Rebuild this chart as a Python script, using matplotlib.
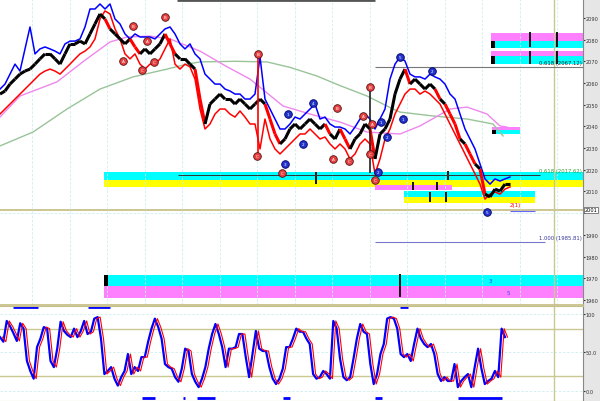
import numpy as np
import matplotlib.pyplot as plt
from matplotlib.collections import LineCollection
from matplotlib.patches import Rectangle

# Cours par barre
close = [2054.9, 2056.3, 2059.5, 2061.8, 2064.1, 2065.5, 2066.4, 2068.7, 2071.1, 2073.4,
         2073.4, 2071.1, 2068.7, 2073.4, 2078.0, 2078.0, 2079.3, 2078.0, 2082.6, 2087.2,
         2091.8, 2089.5, 2084.9, 2082.6, 2080.3, 2078.0, 2080.3, 2076.6, 2073.4, 2075.7,
         2073.4, 2075.7, 2078.0, 2082.6, 2078.0, 2073.4, 2071.1, 2071.1, 2068.7, 2066.4,
         2052.6, 2041.1, 2050.3, 2052.6, 2054.9, 2052.6, 2052.6, 2050.3, 2052.6, 2050.3,
         2048.0, 2050.3, 2052.6, 2050.3, 2043.4, 2036.5, 2031.9, 2034.2, 2038.8, 2041.1,
         2038.8, 2041.1, 2043.4, 2041.1, 2038.8, 2041.1, 2036.5, 2034.2, 2038.8, 2034.2,
         2029.6, 2034.2, 2036.5, 2041.1, 2038.8, 2025.0, 2036.5, 2038.8, 2043.4, 2054.9,
         2061.8, 2066.4, 2059.5, 2061.8, 2059.5, 2057.2, 2059.5, 2057.2, 2052.6, 2050.3,
         2045.7, 2041.1, 2034.2, 2031.9, 2027.3, 2022.7, 2020.4, 2008.8, 2007.5, 2011.1,
         2010.2, 2013.4, 2013.4]

upper = [2057.2, 2059.5, 2064.1, 2068.7, 2065.5, 2075.7, 2085.8, 2073.4, 2075.7, 2076.6,
         2075.7, 2074.7, 2073.4, 2078.0, 2079.3, 2079.3, 2080.3, 2085.8, 2094.1, 2094.1,
         2096.4, 2094.1, 2096.4, 2089.5, 2087.2, 2082.6, 2080.3, 2082.6, 2081.2, 2081.2,
         2081.2, 2080.3, 2082.6, 2084.9, 2085.8, 2082.6, 2078.0, 2075.7, 2078.0, 2073.4,
         2071.1, 2064.1, 2061.8, 2059.5, 2059.5, 2057.2, 2056.3, 2054.9, 2054.9, 2052.6,
         2052.6, 2054.9, 2072.0, 2052.6, 2048.0, 2043.4, 2038.8, 2038.8, 2041.1, 2044.3,
         2043.4, 2045.7, 2048.0, 2050.3, 2043.4, 2044.3, 2041.1, 2039.7, 2039.7, 2038.8,
         2036.5, 2039.7, 2043.4, 2045.7, 2043.4, 2038.8, 2043.4, 2048.0, 2061.8, 2068.7,
         2072.0, 2070.1, 2064.1, 2062.8, 2062.8, 2061.8, 2064.1, 2062.8, 2061.8, 2059.5,
         2054.9, 2052.6, 2045.7, 2038.8, 2034.2, 2029.6, 2022.7, 2015.8, 2013.4, 2015.8,
         2014.8, 2015.8, 2016.7]

lower = [2045.7, 2048.0, 2050.3, 2052.6, 2054.9, 2057.2, 2059.5, 2061.8, 2064.1, 2065.5,
         2066.4, 2065.5, 2064.1, 2066.4, 2068.7, 2071.1, 2073.4, 2074.7, 2076.6, 2080.3,
         2089.5, 2093.2, 2091.8, 2084.9, 2080.3, 2073.4, 2071.1, 2073.4, 2068.7, 2066.4,
         2068.7, 2068.7, 2071.1, 2075.7, 2080.3, 2068.7, 2066.4, 2068.7, 2067.4, 2061.8,
         2048.0, 2038.8, 2041.1, 2045.7, 2048.0, 2048.0, 2045.7, 2044.3, 2047.1, 2044.3,
         2041.1, 2041.1, 2029.6, 2043.4, 2034.2, 2029.6, 2027.3, 2029.6, 2031.9, 2034.2,
         2036.5, 2036.5, 2038.8, 2036.5, 2034.2, 2035.1, 2031.9, 2029.6, 2031.9, 2029.6,
         2025.0, 2027.3, 2031.9, 2034.2, 2031.9, 2018.1, 2025.0, 2034.2, 2038.8, 2045.7,
         2050.3, 2054.9, 2057.2, 2057.2, 2054.9, 2056.3, 2054.9, 2052.6, 2050.3, 2045.7,
         2041.1, 2036.5, 2031.9, 2027.3, 2022.7, 2018.1, 2013.4, 2006.5, 2008.8, 2009.8,
         2008.8, 2011.1, 2012.1]

ma_rose_x = [0, 4, 11.4, 17, 22, 25.4, 30, 34, 40, 45, 50, 56.6, 62, 68, 73.4, 80, 84, 90, 93.4, 97.4, 100, 101.4]
ma_rose_y = [2044.3, 2054.0, 2060.5, 2070.5, 2078.9, 2081.2, 2081.6, 2080.3, 2074.7, 2068.0, 2061.8, 2049.4,
             2045.7, 2042.0, 2037.4, 2036.5, 2040.2, 2048.0, 2048.9, 2045.7, 2040.2, 2039.7]

ma_vert_x = [0, 6.6, 13.4, 20, 26.6, 33.4, 37.4, 40, 47, 53.4, 58, 63.4, 68, 73.4, 78.6, 80, 86.6, 93.4, 98.6, 100.6]
ma_vert_y = [2031.0, 2037.4, 2048.0, 2057.2, 2062.8, 2066.4, 2068.7, 2069.7, 2070.0, 2069.7, 2067.2, 2063.2,
             2058.8, 2054.0, 2048.0, 2046.6, 2044.8, 2043.4, 2041.1, 2035.6]

# Stochastique (panneau du bas)
osc = [70, 64, 91, 84, 75, 65, 88, 81, 39, 26, 16, 57, 68, 83, 81, 39, 31, 55, 90, 78,
       73, 70, 81, 70, 78, 91, 74, 77, 94, 96, 68, 22, 26, 31, 16, 7, 18, 26, 48, 22,
       31, 26, 44, 44, 64, 81, 94, 83, 68, 35, 31, 29, 18, 12, 29, 55, 52, 22, 12, 5,
       16, 31, 55, 74, 87, 74, 57, 31, 55, 55, 57, 74, 74, 44, 18, 48, 78, 55, 52, 52,
       31, 16, 9, 16, 29, 57, 57, 68, 81,
       77, 77, 68, 61, 22, 16, 18, 26, 22, 16, 91, 81, 42, 18, 14, 18, 42, 68, 87, 77,
       74, 35, 9, 22, 48, 61, 94, 96, 94, 81, 48, 44, 48, 39, 61, 81, 68, 61, 57, 61,
       48, 22, 13, 18, 13, 13, 35, 5, 13, 18, 22, 5, 31, 55, 29, 9, 13, 16, 26, 18,
       81, 70]
bas_debut = [28.4, 36.6, 39.4, 56.6, 75.0, 91.6]
bas_fin = [31.0, 37.0, 43.0, 58.0, 76.4, 100.4]
haut_debut = [2.6, 17.6, 80.0]
haut_fin = [7.6, 22.0, 81.6]

# Zones de prix : (debut, fin, bas, haut, couleur)
zones = [
    (20.8, 116.6, 2015.3, 2018.9, '#00ffff'),
    (20.8, 116.6, 2012.1, 2015.3, '#ffff00'),
    (75.0, 90.4, 2010.7, 2013.0, '#ff80ff'),
    (80.8, 107.0, 2007.5, 2010.2, '#00ffff'),
    (80.8, 107.0, 2004.7, 2007.5, '#ffff00'),
    (98.2, 116.6, 2079.3, 2083.0, '#ff80ff'),
    (98.2, 116.6, 2076.1, 2079.3, '#00ffff'),
    (98.2, 116.6, 2072.4, 2074.7, '#ff80ff'),
    (98.2, 116.6, 2068.7, 2072.4, '#00ffff'),
    (98.4, 104.0, 2038.3, 2039.7, '#ff80ff'),
    (98.4, 104.0, 2036.5, 2038.3, '#00ffff'),
    (20.8, 116.6, 1966.4, 1971.5, '#00ffff'),
    (20.8, 116.6, 1960.9, 1966.4, '#ff80ff'),
]
ticks_x = [63.2, 82.6, 87.4, 89.6, 86.0, 89.2, 80.0, 106.0, 106.0, 111.4, 111.4]
ticks_lo = [2013.4, 2010.7, 2010.7, 2015.3, 2005.2, 2005.2, 1961.4, 2076.6, 2068.7, 2076.6, 2068.7]
ticks_hi = [2018.9, 2014.4, 2014.4, 2019.4, 2009.8, 2009.8, 1972.0, 2083.5, 2074.7, 2083.5, 2074.7]
blocs = [(98.2, 99.0, 2076.1, 2079.3), (98.2, 99.0, 2068.7, 2072.4), (98.4, 99.2, 2036.5, 2038.3),
         (20.8, 21.5, 1966.4, 1971.5)]

# Etiquettes de vagues
vag_x = [24.6, 26.6, 28.4, 29.4, 30.8, 33.0, 51.6, 51.4, 56.4, 66.6, 69.8, 67.4, 72.6, 74.0, 74.4, 74.0, 75.0,
         57.6, 62.6, 60.6, 76.2, 77.4, 80.0, 86.4, 80.6, 57.0, 75.6, 97.4]
vag_y = [2070.1, 2086.3, 2066.0, 2079.3, 2069.7, 2090.4, 2073.4, 2026.4, 2018.5, 2025.0, 2024.1, 2048.5,
         2044.8, 2058.1, 2041.1, 2027.3, 2015.3,
         2045.7, 2050.8, 2031.9, 2042.0, 2035.1, 2072.0, 2065.5, 2043.4, 2022.7, 2019.0, 2000.5]
vag_lab = ['A', 'B', 'C', 'A', 'C', 'B', 'B', 'C', 'C', 'A', 'C', 'B', 'A', 'B', 'A', 'C', 'C',
           '1', '4', '2', '1', '2', '5', '2', '1', '3', '2', '5']
vag_rouge = 17

# Graduations de droite
prix_ticks = [1960, 1970, 1980, 1990, 2010, 2020, 2030, 2040, 2050, 2060, 2070, 2080, 2090]

fig = plt.figure(figsize=(6, 4.02), dpi=100)
fig.patches.append(Rectangle((583 / 600, 0), 17 / 600, 1, transform=fig.transFigure,
                             color='#e6e6e6', zorder=-1))
ax = fig.add_axes([0, 96 / 402, 583 / 600, 306 / 402])
ax2 = fig.add_axes([0, 0, 583 / 600, 95 / 402])

x = np.arange(len(close))
c = np.array(close)

# --- panneau principal ---
for x0, x1, lo, hi, col in zones:
    ax.fill_between([x0, x1], lo, hi, color=col, lw=0, zorder=1)
ax.vlines(ticks_x, ticks_lo, ticks_hi, color='black', lw=1.3, zorder=2)
for x0, x1, lo, hi in blocs:
    ax.fill_between([x0, x1], lo, hi, color='black', lw=0, zorder=2)

ax.axhline(2001.5, color='#c8c08a', lw=1.3, zorder=1)
ax.hlines(2017.6, 35.6, 108, color='#333333', lw=0.7, zorder=2)
ax.hlines(2067.4, 75, 116.6, color='#777777', lw=0.8, zorder=2)
ax.hlines(1986.7, 75, 109, color='#7777cc', lw=0.8, zorder=2)
ax.hlines(2098.2, 35.4, 75, color='#555555', lw=2, zorder=2)

ax.plot(ma_vert_x, ma_vert_y, color='#99c499', lw=1, zorder=3)
ax.plot(ma_rose_x, ma_rose_y, color='#ee88ee', lw=1, zorder=3)
ax.plot(x, lower, color='red', lw=1.1, zorder=4)
ax.plot(x, upper, color='blue', lw=1.1, zorder=4)

seg = np.stack([np.column_stack([x[:-1], c[:-1]]), np.column_stack([x[1:], c[1:]])], axis=1)
cols = ['red' if c[i + 1] < c[i] - 3 else 'black' for i in range(len(c) - 1)]
ax.add_collection(LineCollection(seg, colors=cols, linewidths=2.2, zorder=5))
ax.vlines([51.6, 74.0], [2026.4, 2018.5], [2073.4, 2058.1], color=['red', '#222222'], lw=1.2, zorder=5)

for i in range(len(vag_x)):
    fc = '#e84040' if i < vag_rouge else '#2233cc'
    ax.plot(vag_x[i], vag_y[i], 'o', ms=5.5, mfc=fc, mec='#551111' if i < vag_rouge else '#000066',
            mew=0.6, zorder=6)
    ax.text(vag_x[i], vag_y[i], vag_lab[i], fontsize=3, color='white', ha='center', va='center', zorder=7)

ax.text(116.4, 2068.2, '0.618 (2067.12)', fontsize=3.8, ha='right', va='bottom', color='#222222', zorder=8)
ax.text(116.4, 2018.3, '0.618 (2017.62)', fontsize=3.8, ha='right', va='bottom', color='#339933', zorder=8)
ax.text(116.4, 1987.5, '1.000 (1985.81)', fontsize=3.8, ha='right', va='bottom', color='#333399', zorder=8)
ax.text(98, 1969, '3', fontsize=4, color='#3344ff', ha='center', va='center', zorder=8)
ax.text(101.6, 1963.5, '5', fontsize=4, color='#3344ff', ha='center', va='center', zorder=8)
ax.text(103, 2003.8, '2(1)', fontsize=4, color='red', ha='center', va='center', zorder=8)
ax.hlines(2001.0, 102, 107, color='#6666ff', lw=0.8, zorder=8)

ax.set_xlim(0, 116.6)
ax.set_ylim(1957.7, 2098.7)
ax.set_yticks(prix_ticks)
ax.set_yticklabels([str(v) for v in prix_ticks])
ax.set_yticks(np.arange(1960, 2091, 10), minor=True)
ax.set_xticks(np.arange(6.4, 116, 7.5))
ax.yaxis.tick_right()
ax.tick_params(axis='y', which='both', labelsize=3.6, length=1.5, pad=0.6, colors='#333333')
ax.tick_params(axis='x', length=0, labelbottom=False)
ax.grid(True, which='major', axis='x', color='#cdeeee', lw=0.6, ls=(0, (3, 2)), zorder=0)
ax.grid(True, which='minor', axis='y', color='#cdeeee', lw=0.6, ls=(0, (3, 2)), zorder=0)
ax.axvline(110.8, color='#c8c890', lw=1, zorder=1)
for s in ['top', 'left']:
    ax.spines[s].set_visible(False)
ax.spines['right'].set_color('#888888')
ax.spines['bottom'].set_color('#c8c08a')
ax.spines['bottom'].set_linewidth(1.3)
ax.text(1.003, 2001.5, '2001', transform=ax.get_yaxis_transform(), fontsize=3.6, va='center',
        bbox=dict(fc='white', ec='#555555', lw=0.5, pad=0.5), zorder=9)

# --- panneau du bas ---
ox = np.linspace(0, 101, len(osc))
ax2.axhline(80, color='#c8c890', lw=1)
ax2.axhline(20, color='#c8c890', lw=1)
ax2.plot(ox, osc, color='blue', lw=1.6)
ax2.plot(ox + 0.5, osc, color='red', lw=0.8)
ax2.hlines([-9] * len(bas_debut), bas_debut, bas_fin, color='blue', lw=2)
ax2.hlines([108.5] * len(haut_debut), haut_debut, haut_fin, color='blue', lw=2)
ax2.axvline(110.8, color='#c8c890', lw=1)
ax2.set_xlim(0, 116.6)
ax2.set_ylim(-13, 110.4)
ax2.set_yticks([0, 50, 100])
ax2.set_yticklabels(['0.0', '50.0', '100'])
ax2.set_xticks(np.arange(6.4, 116, 7.5))
ax2.yaxis.tick_right()
ax2.tick_params(axis='y', labelsize=3.6, length=1.5, pad=0.6, colors='#333333')
ax2.tick_params(axis='x', length=0, labelbottom=False)
ax2.grid(True, axis='y', color='#cdeeee', lw=0.6, ls=(0, (3, 2)))
ax2.spines['left'].set_visible(False)
ax2.spines['top'].set_color('#c8c08a')
ax2.spines['bottom'].set_color('#c8c08a')
ax2.spines['right'].set_color('#888888')

fig.savefig('out.png', dpi=100)
